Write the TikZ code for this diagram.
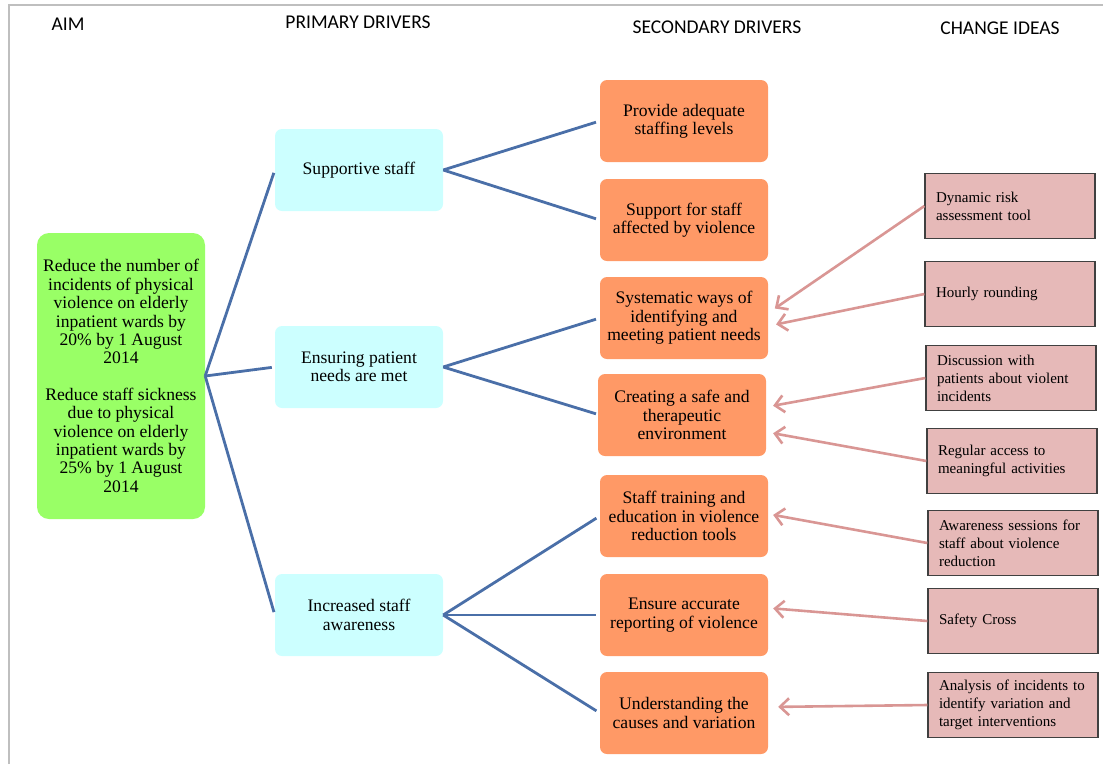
\documentclass[tikz,border=0pt]{standalone}
\usepackage{fontspec}
\setmainfont{Liberation Serif}
\newfontfamily\hdrfont{Carlito}
\usetikzlibrary{arrows.meta}
\definecolor{aimgreen}{HTML}{99FF66}
\definecolor{primcyan}{HTML}{CCFFFF}
\definecolor{secorange}{HTML}{FF9966}
\definecolor{ideapink}{HTML}{E6B9B8}
\definecolor{ideaborder}{HTML}{404040}
\definecolor{linkblue}{HTML}{4A6FA8}
\definecolor{arrowpink}{HTML}{D99694}
\definecolor{framegray}{HTML}{BFBFBF}
\tikzset{
  hdrtext/.style={font=\hdrfont\fontsize{19.5}{22}\selectfont, inner sep=0pt},
  boxtext/.style={font=\fontsize{17.6}{18.4}\selectfont, align=center, inner sep=0pt},
  aimbox/.style={boxtext, fill=aimgreen, rounded corners=12pt, minimum width=168pt, minimum height=286pt},
  primbox/.style={boxtext, fill=primcyan, rounded corners=7pt, minimum width=168pt, minimum height=82pt},
  secbox/.style={boxtext, fill=secorange, rounded corners=7pt, minimum width=168pt, minimum height=82pt},
  ideabox/.style={font=\fontsize{15}{18}\selectfont, fill=ideapink, draw=ideaborder, line width=1.3pt,
    text width=148pt, inner xsep=11pt, inner ysep=0pt, align=left, minimum height=65pt},
  bluelink/.style={draw=linkblue, line width=2.8pt},
  pinkarrow/.style={draw=arrowpink, line width=2.6pt, -{Straight Barb[length=9pt,width=17pt]}}
}
\begin{document}
\begin{tikzpicture}[x=1pt,y=-1pt]
\useasboundingbox (0,0) rectangle (1103,764);
% frame
\draw[framegray, line width=2pt] (9,764) -- (9,5) -- (1103,5);
% headers
\node[hdrtext] (hAim) at (68,24) {AIM};
\node[hdrtext] (hPrim) at (358,22) {PRIMARY DRIVERS};
\node[hdrtext] (hSec) at (717,27) {SECONDARY DRIVERS};
\node[hdrtext] (hIdea) at (1000,28) {CHANGE IDEAS};
% aim
\node[aimbox] (aim) at (121,376) {Reduce the number of\\incidents of physical\\violence on elderly\\inpatient wards by\\20\% by 1 August\\2014\\[18pt]Reduce staff sickness\\due to physical\\violence on elderly\\inpatient wards by\\25\% by 1 August\\2014};
% primary drivers
\node[primbox] (p1) at (359,170) {Supportive staff};
\node[primbox] (p2) at (359,367) {Ensuring patient\\needs are met};
\node[primbox] (p3) at (359,615) {Increased staff\\awareness};
% secondary drivers
\node[secbox] (s1) at (684,121) {Provide adequate\\staffing levels};
\node[secbox] (s2) at (684,220) {Support for staff\\affected by violence};
\node[secbox] (s3) at (684,318) {Systematic ways of\\identifying and\\meeting patient needs};
\node[secbox] (s4) at (682,415) {Creating a safe and\\therapeutic\\environment};
\node[secbox] (s5) at (684,516) {Staff training and\\education in violence\\reduction tools};
\node[secbox] (s6) at (684,615) {Ensure accurate\\reporting of violence};
\node[secbox] (s7) at (684,713) {Understanding the\\causes and variation};
% change ideas
\node[ideabox] (c1) at (1010,206) {Dynamic risk\\assessment tool};
\node[ideabox] (c2) at (1010,294) {Hourly rounding};
\node[ideabox] (c3) at (1011,378) {Discussion with\\patients about violent\\incidents};
\node[ideabox] (c4) at (1012,461) {Regular access to\\meaningful activities};
\node[ideabox] (c5) at (1013,543) {Awareness sessions for\\staff about violence\\reduction};
\node[ideabox] (c6) at (1013,621) {Safety Cross};
\node[ideabox] (c7) at (1013,705) {Analysis of incidents to\\identify variation and\\target interventions};
% blue links
\draw[bluelink, shorten >=3pt] (aim.east) -- (p1.west);
\draw[bluelink, shorten >=3pt] (aim.east) -- (p2.west);
\draw[bluelink, shorten >=3pt] (aim.east) -- (p3.west);
\draw[bluelink, shorten >=4pt] (p1.east) -- (s1.west);
\draw[bluelink, shorten >=4pt] (p1.east) -- (s2.west);
\draw[bluelink, shorten >=4pt] (p2.east) -- (s3.west);
\draw[bluelink, shorten >=4pt] (p2.east) -- ([xshift=2pt]s4.west);
\draw[bluelink, shorten >=4pt] (p3.east) -- (s5.west);
\draw[bluelink, shorten >=4pt] (p3.east) -- (s6.west);
\draw[bluelink, shorten >=4pt] (p3.east) -- (s7.west);
% pink arrows
\draw[pinkarrow, shorten >=8pt] (c1.west) -- ([yshift=5pt]s3.east);
\draw[pinkarrow, shorten >=8pt] (c2.west) -- ([yshift=-8pt]s3.east);
\draw[pinkarrow, shorten >=7pt] (c3.west) -- ([yshift=8pt]s4.east);
\draw[pinkarrow, shorten >=7pt] (c4.west) -- ([yshift=-17pt]s4.east);
\draw[pinkarrow, shorten >=5pt] (c5.west) -- ([yshift=2pt]s5.east);
\draw[pinkarrow, shorten >=5pt] (c6.west) -- ([yshift=7pt]s6.east);
\draw[pinkarrow, shorten >=10pt] (c7.west) -- ([yshift=6pt]s7.east);
\end{tikzpicture}
\end{document}
